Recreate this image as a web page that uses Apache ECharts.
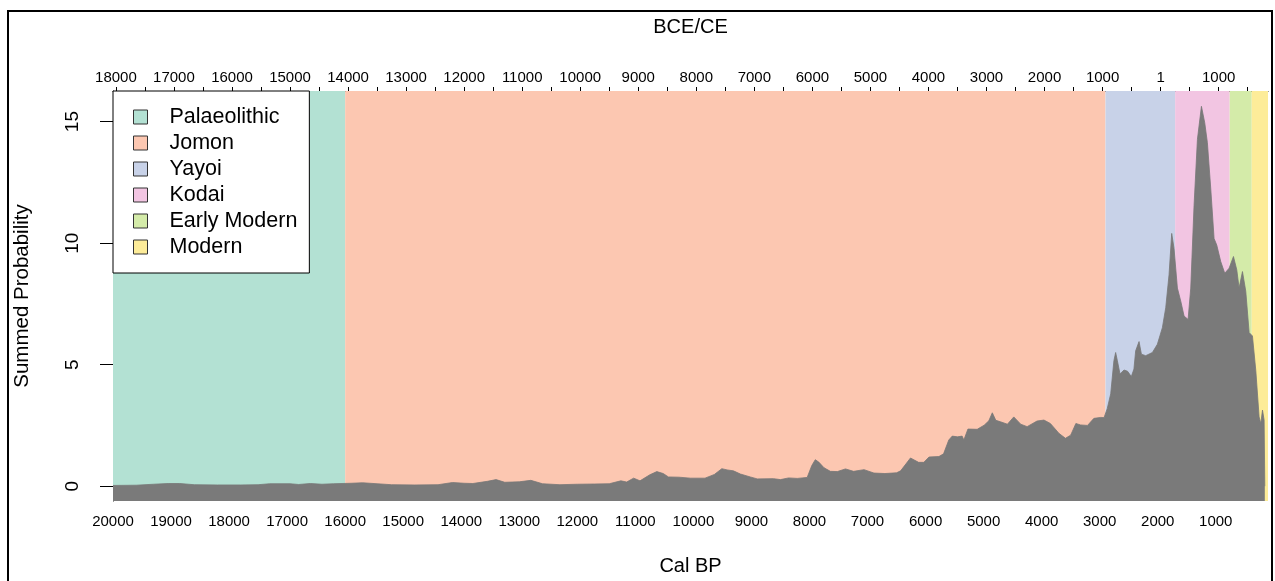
<!DOCTYPE html>
<html>
<head>
<meta charset="utf-8">
<script src="https://cdn.jsdelivr.net/npm/echarts@6/dist/echarts.min.js"></script>
<style>
  html, body { margin: 0; padding: 0; background: #fff; overflow: hidden; }
  #chart { width: 1275px; height: 581px; }
</style>
</head>
<body>
<div id="chart"></div>
<script>
// ---- Data ----
const calBP = [20000,19600,19300,19050,18850,18600,18200,17800,17500,17300,16950,16800,16600,16400,16200,15900,15700,15450,15200,14800,14400,14150,13950,13800,13550,13400,13250,13000,12800,12600,12300,12000,11700,11450,11250,11150,11030,10920,10750,10630,10520,10430,10250,10050,9800,9640,9510,9420,9310,9190,9020,8900,8620,8500,8360,8210,8040,7960,7900,7840,7750,7640,7520,7380,7240,7060,6890,6700,6500,6430,6260,6120,6030,5940,5770,5690,5600,5540,5450,5370,5340,5270,5110,4990,4910,4850,4790,4710,4590,4480,4360,4250,4080,3960,3850,3700,3590,3500,3410,3330,3210,3100,2980,2925,2870,2810,2755,2725,2695,2650,2580,2520,2455,2410,2380,2322,2281,2207,2092,2006,1920,1862,1805,1759,1719,1661,1603,1546,1477,1431,1374,1316,1247,1190,1144,1086,1029,983,914,845,770,695,638,598,540,483,425,368,310,253,224,195,167,155];
const summedProb = [0.03,0.04,0.08,0.11,0.11,0.06,0.05,0.05,0.06,0.10,0.10,0.07,0.11,0.08,0.10,0.12,0.14,0.10,0.06,0.05,0.06,0.15,0.12,0.11,0.20,0.27,0.16,0.18,0.24,0.10,0.06,0.08,0.09,0.10,0.22,0.17,0.33,0.22,0.47,0.60,0.52,0.38,0.37,0.33,0.33,0.48,0.72,0.67,0.63,0.50,0.38,0.30,0.31,0.27,0.34,0.32,0.36,0.85,1.09,0.99,0.76,0.61,0.60,0.71,0.61,0.68,0.54,0.52,0.55,0.63,1.16,0.98,0.98,1.20,1.22,1.33,1.90,2.06,2.03,2.06,1.90,2.35,2.34,2.51,2.69,3.02,2.71,2.65,2.55,2.85,2.55,2.45,2.68,2.72,2.58,2.17,1.97,2.10,2.58,2.52,2.50,2.79,2.83,2.82,3.19,3.80,5.16,5.50,5.16,4.62,4.78,4.73,4.51,4.82,5.57,5.95,5.43,5.37,5.50,5.84,6.52,7.34,8.70,10.40,9.78,8.15,7.61,7.00,6.86,8.15,11.55,14.27,15.63,14.95,14.13,12.23,10.19,9.92,9.24,8.76,8.97,9.45,8.90,8.15,8.83,8.02,6.32,6.18,4.76,2.85,2.58,3.13,2.72,0];

const periodNames = ['Palaeolithic','Jomon','Yayoi','Kodai','Early Modern','Modern'];
const periodStartBP = [20000,16000,2900,1700,760,380];
const periodEndBP   = [16000,2900,1700,760,380,100];

const bottomTickBP  = [20000,19500,19000,18500,18000,17500,17000,16500,16000,15500,15000,14500,14000,13500,13000,12500,12000,11500,11000,10500,10000,9500,9000,8500,8000,7500,7000,6500,6000,5500,5000,4500,4000,3500,3000,2500,2000,1500,1000,500];
const bottomLabelBP = [20000,19000,18000,17000,16000,15000,14000,13000,12000,11000,10000,9000,8000,7000,6000,5000,4000,3000,2000,1000];
// top axis in calendar years (negative = BCE)
const topTickYear  = [-18000,-17500,-17000,-16500,-16000,-15500,-15000,-14500,-14000,-13500,-13000,-12500,-12000,-11500,-11000,-10500,-10000,-9500,-9000,-8500,-8000,-7500,-7000,-6500,-6000,-5500,-5000,-4500,-4000,-3500,-3000,-2500,-2000,-1500,-1000,-500,1,500,1000,1500];
const topLabelYear = [-18000,-17000,-16000,-15000,-14000,-13000,-12000,-11000,-10000,-9000,-8000,-7000,-6000,-5000,-4000,-3000,-2000,-1000,1,1000];
const yTicks = [0,5,10,15];

// ---- Styling ----
const periodColors = ['#b3e1d3','#fcc7b1','#c8d2e8','#f2c5e2','#d4eba9','#fdec99'];
const FONT = '"Liberation Sans", Arial, Helvetica, sans-serif';
const BP_MIN = 100, BP_MAX = 20000;

const chart = echarts.init(document.getElementById('chart'), null, { width: 1275, height: 581 });

const bandSeries = periodNames.map((name, i) => ({
  name: name,
  type: 'line',
  data: [],
  color: periodColors[i],
  itemStyle: { color: periodColors[i] },
  silent: true,
  z: 1,
  markArea: {
    silent: true,
    itemStyle: { color: periodColors[i], opacity: 1 },
    data: [[{ xAxis: periodStartBP[i] }, { xAxis: periodEndBP[i] }]]
  }
}));

const probSeries = {
  name: 'Summed Probability',
  type: 'line',
  data: calBP.map((b, i) => [b, summedProb[i]]),
  symbol: 'none',
  showSymbol: false,
  smooth: false,
  lineStyle: { width: 0.8, color: '#777777' },
  areaStyle: { color: '#7a7a7a', opacity: 1, origin: 'start' },
  z: 3,
  silent: true
};

chart.setOption({
  animation: false,
  backgroundColor: '#ffffff',
  textStyle: { fontFamily: FONT },
  grid: { left: 113, top: 91, width: 1155, height: 414, containLabel: false },
  legend: {
    data: periodNames,
    orient: 'vertical',
    left: 113,
    top: 91,
    icon: 'rect',
    itemWidth: 14,
    itemHeight: 14,
    itemGap: 4,
    padding: [15, 12, 15, 20],
    backgroundColor: '#ffffff',
    borderColor: '#000000',
    borderWidth: 1,
    borderRadius: 0,
    selectedMode: false,
    itemStyle: { borderColor: '#333333', borderWidth: 1 },
    textStyle: { fontSize: 21.5, lineHeight: 22, color: '#000', fontFamily: FONT, padding: [0, 0, 0, 17] },
    z: 10
  },
  xAxis: [
    {
      type: 'value',
      position: 'bottom',
      min: BP_MIN,
      max: BP_MAX,
      inverse: true,
      name: 'Cal BP',
      nameLocation: 'middle',
      nameGap: 55,
      nameTextStyle: { fontSize: 20, color: '#000', fontFamily: FONT },
      axisLine: { show: false },
      axisTick: { show: true, length: 6, inside: false, customValues: bottomTickBP, lineStyle: { color: '#000', width: 1 } },
      axisLabel: { show: true, customValues: bottomLabelBP, margin: 13, fontSize: 15, color: '#000', fontFamily: FONT, hideOverlap: false,
        formatter: v => String(v) },
      splitLine: { show: false }
    },
    {
      type: 'value',
      position: 'top',
      min: 1950 - BP_MAX,
      max: 1950 - BP_MIN,
      name: 'BCE/CE',
      nameLocation: 'middle',
      nameGap: 54,
      nameTextStyle: { fontSize: 20, color: '#000', fontFamily: FONT },
      axisLine: { show: true, onZero: false, lineStyle: { color: '#000', width: 1 } },
      axisTick: { show: true, length: 4, customValues: topTickYear, lineStyle: { color: '#000', width: 1 } },
      axisLabel: { show: true, customValues: topLabelYear, margin: 6, fontSize: 15, color: '#000', fontFamily: FONT, hideOverlap: false,
        formatter: v => String(Math.abs(v)) },
      splitLine: { show: false }
    }
  ],
  yAxis: {
    type: 'value',
    min: -0.61,
    max: 16.26,
    name: 'Summed Probability',
    nameLocation: 'middle',
    nameGap: 80,
    nameRotate: 90,
    nameTextStyle: { fontSize: 20.5, color: '#000', fontFamily: FONT },
    axisLine: { show: true, onZero: false, lineStyle: { color: '#000', width: 1 } },
    axisTick: { show: true, length: 13, customValues: yTicks, lineStyle: { color: '#000', width: 1 } },
    axisLabel: { show: true, customValues: yTicks, rotate: 90, margin: 31, fontSize: 19, color: '#000', fontFamily: FONT, hideOverlap: false },
    splitLine: { show: false }
  },
  graphic: [
    {
      type: 'rect',
      silent: true,
      z: 100,
      shape: { x: 8, y: 11, width: 1264, height: 640 },
      style: { fill: 'none', stroke: '#000', lineWidth: 2 }
    }
  ],
  series: [...bandSeries, probSeries]
});
</script>
</body>
</html>
